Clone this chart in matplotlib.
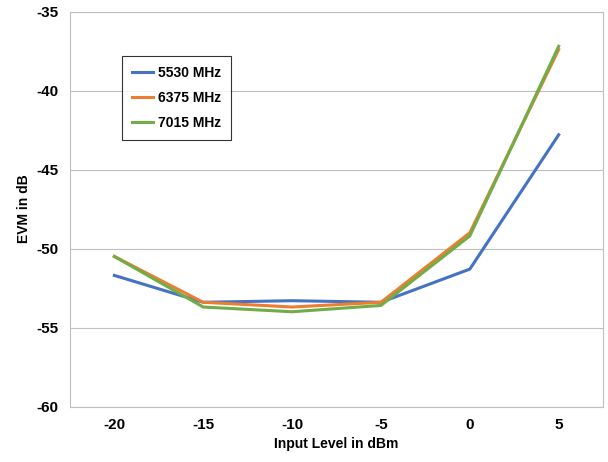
import matplotlib.pyplot as plt
import numpy as np

plt.rcParams['font.family'] = ['Liberation Sans', 'DejaVu Sans']
plt.rcParams['axes.unicode_minus'] = False

levels = ["-20", "-15", "-10", "-5", "0", "5"]
evm_5530 = [-51.7, -53.4, -53.3, -53.4, -51.3, -42.8]
evm_6375 = [-50.5, -53.4, -53.7, -53.4, -49.0, -37.4]
evm_7015 = [-50.5, -53.7, -54.0, -53.6, -49.2, -37.2]

fig = plt.figure(figsize=(6.08, 4.62), dpi=100)
ax = fig.add_axes([0.115, 0.12, 0.877, 0.855])

x = np.arange(len(levels))
ax.plot(x, evm_5530, color='#4472C4', linewidth=2.2, label='5530 MHz')
ax.plot(x, evm_6375, color='#ED7D31', linewidth=2.2, label='6375 MHz')
ax.plot(x, evm_7015, color='#70AD47', linewidth=2.2, label='7015 MHz')

ax.set_xlim(-0.5, len(levels) - 0.5)
ax.set_ylim(-60, -35)
ax.set_yticks(range(-60, -34, 5))
ax.set_xticks(x)
ax.set_xticklabels(levels)
ax.grid(axis='y', color='#BFBFBF', linewidth=0.8)
ax.set_axisbelow(True)
for s in ['top', 'right', 'left', 'bottom']:
    ax.spines[s].set_color('#BFBFBF')
ax.tick_params(length=0, labelsize=11, pad=8)
for t in ax.get_xticklabels() + ax.get_yticklabels():
    t.set_fontweight('bold')

ax.set_xlabel('Input Level in dBm', fontsize=10, fontweight='bold')
ax.set_ylabel('EVM in dB', fontsize=10, fontweight='bold')

leg = ax.legend(loc='upper left', bbox_to_anchor=(0.085, 0.905), fancybox=False,
                edgecolor='black', prop={'weight': 'bold', 'size': 10},
                handlelength=1.5, handletextpad=0.4, labelspacing=0.8,
                borderpad=0.7)
leg.get_frame().set_linewidth(0.8)

fig.savefig('out.png')
